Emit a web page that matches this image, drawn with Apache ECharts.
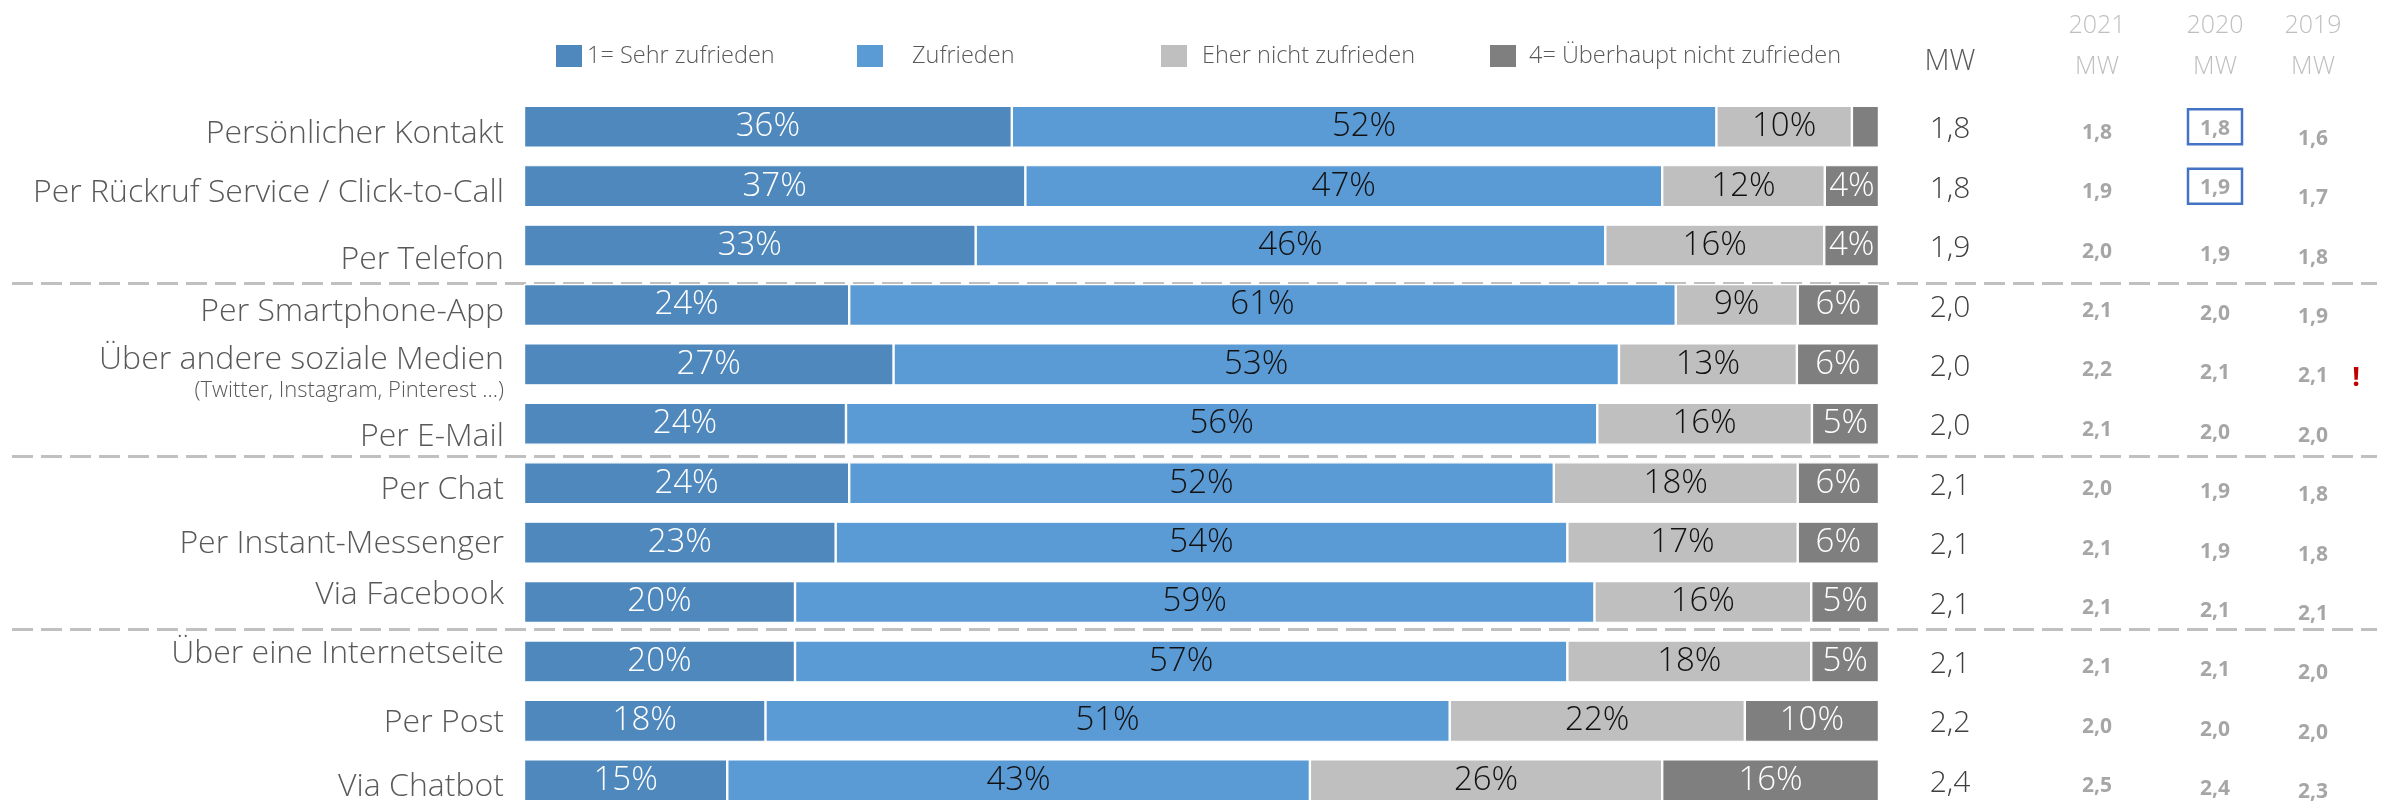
<!DOCTYPE html>
<html lang="de">
<head>
<meta charset="UTF-8">
<title>Zufriedenheit nach Kontaktkanal</title>
<script src="https://cdn.jsdelivr.net/npm/echarts@6/dist/echarts.min.js"></script>
<style>
    html, body { margin: 0; padding: 0; background: #fff; }
    #chart { width: 2389px; height: 803px; }
</style>
</head>
<body>
<div id="chart"></div>
<script>
    // Kanäle von oben nach unten
    const channels = [
        'Persönlicher Kontakt', 'Per Rückruf Service / Click-to-Call', 'Per Telefon',
        'Per Smartphone-App', 'Über andere soziale Medien', 'Per E-Mail',
        'Per Chat', 'Per Instant-Messenger', 'Via Facebook',
        'Über eine Internetseite', 'Per Post', 'Via Chatbot'
    ];
    const channelNotes = ['', '', '', '', '(Twitter, Instagram, Pinterest …)', '', '', '', '', '', '', ''];
    const groupStarts = [3, 6, 9];   // gestrichelte Trenner vor diesen Zeilen

    const seriesNames = ['1= Sehr zufrieden', 'Zufrieden', 'Eher nicht zufrieden', '4= Überhaupt nicht zufrieden'];
    const sehrZufrieden = [36, 37, 33, 24, 27, 24, 24, 23, 20, 20, 18, 15];
    const zufrieden     = [52, 47, 46, 61, 53, 56, 52, 54, 59, 57, 51, 43];
    const eherNicht     = [10, 12, 16, 9, 13, 16, 18, 17, 16, 18, 22, 26];
    const garNicht      = [2, 4, 4, 6, 6, 5, 6, 6, 5, 5, 10, 16];

    // Mittelwerte
    const mw     = [1.8, 1.8, 1.9, 2.0, 2.0, 2.0, 2.1, 2.1, 2.1, 2.1, 2.2, 2.4];
    const mw2021 = [1.8, 1.9, 2.0, 2.1, 2.2, 2.1, 2.0, 2.1, 2.1, 2.1, 2.0, 2.5];
    const mw2020 = [1.8, 1.9, 1.9, 2.0, 2.1, 2.0, 1.9, 1.9, 2.1, 2.1, 2.0, 2.4];
    const mw2019 = [1.6, 1.7, 1.8, 1.9, 2.1, 2.0, 1.8, 1.8, 2.1, 2.0, 2.0, 2.3];
    const years = ['2021', '2020', '2019'];
    const boxed2020 = [0, 1];
    const alertRows = [4];

    const FONT = '"Open Sans", sans-serif';
    const colors = ['#4F88BC', '#5B9BD5', '#BFBFBF', '#7F7F7F'];
    const labelColors = ['#ffffff', '#111111', '#111111', '#ffffff'];
    const raw = [sehrZufrieden, zufrieden, eherNicht, garNicht];
    const rowSum = channels.map((_, i) => raw.reduce((s, arr) => s + arr[i], 0));
    const fmt = v => v.toFixed(1).replace('.', ',');

    const GRID_LEFT = 524, GRID_WIDTH = 1355, GRID_TOP = 97, GRID_HEIGHT = 713;
    const RIGHT_EDGE = GRID_LEFT + GRID_WIDTH;

    // vertikaler Versatz der Beschriftungen (px nach unten)
    const catShift = [7, 7, 14, 7, 0, 13, 7, 1, -7, -8, 2, 7];
    const pad = s => s >= 0 ? [2 * s, 0, 0, 0] : [0, 0, -2 * s, 0];

    const catRich = {
        main: { fontSize: 32, fontFamily: FONT, fontWeight: 300, color: '#595959', padding: [17, 0, 0, 0] },
        sub: { fontSize: 22, fontFamily: FONT, fontWeight: 300, color: '#595959', padding: [4, 0, 0, 0] }
    };
    catShift.forEach((s, i) => {
        catRich['r' + i] = { fontSize: 32, fontFamily: FONT, fontWeight: 300, color: '#595959', padding: pad(s) };
    });

    function columnAxis(centerX, formatter, rich) {
        return {
            gridIndex: 0, type: 'category', inverse: true, data: channels,
            position: 'right', offset: centerX - RIGHT_EDGE,
            axisLine: { show: false }, axisTick: { show: false }, splitLine: { show: false },
            axisLabel: { interval: 0, margin: 0, align: 'center', formatter: formatter, rich: rich }
        };
    }
    const histStyle = s => ({ fontSize: 21, fontFamily: FONT, fontWeight: 'bold', color: '#A6A6A6', padding: pad(s) });

    const legendLeft = [556, 857, 1161, 1490];
    const legendTextGap = [0, 24, 10, 8];
    const yearX = [2097, 2215, 2313];

    const chart = echarts.init(document.getElementById('chart'));
    chart.setOption({
        animation: false,
        legend: seriesNames.map((n, k) => ({
            data: [n], left: legendLeft[k], top: 44, padding: 0, icon: 'rect',
            itemWidth: 26, itemHeight: 22, selectedMode: false,
            itemStyle: { borderWidth: 0 },
            textStyle: { color: '#595959', fontSize: 23.5, fontFamily: FONT, fontWeight: 300, padding: [0, 0, 0, legendTextGap[k]] }
        })),
        grid: [
            { left: GRID_LEFT, top: GRID_TOP, width: GRID_WIDTH, height: GRID_HEIGHT, outerBoundsMode: 'none' },
            // Hilfsraster nur für die gestrichelten Trenner
            { left: 12, top: 110, width: 2365, height: 692, outerBoundsMode: 'none' }
        ],
        xAxis: [
            { gridIndex: 0, type: 'value', min: 0, max: 100, show: false },
            { gridIndex: 1, type: 'value', min: 0, max: 1, show: false }
        ],
        yAxis: [
            {
                gridIndex: 0, type: 'category', inverse: true, data: channels,
                axisLine: { show: false }, axisTick: { show: false },
                axisLabel: {
                    interval: 0, margin: 20, align: 'right',
                    formatter: (v, i) => channelNotes[i]
                        ? '{main|' + v + '}\n{sub|' + channelNotes[i] + '}'
                        : '{r' + i + '|' + v + '}',
                    rich: catRich
                }
            },
            columnAxis(1950, (v, i) => '{m|' + fmt(mw[i]) + '}',
                { m: { fontSize: 30, fontFamily: FONT, fontWeight: 300, color: '#404040', padding: pad(3) } }),
            columnAxis(yearX[0], (v, i) => '{h|' + fmt(mw2021[i]) + '}', { h: histStyle(6) }),
            columnAxis(yearX[1], (v, i) => boxed2020.includes(i) ? '{b|' + fmt(mw2020[i]) + '}' : '{h|' + fmt(mw2020[i]) + '}', {
                h: histStyle(9),
                b: { fontSize: 21, fontFamily: FONT, fontWeight: 'bold', color: '#A6A6A6',
                     padding: [9, 12, 5, 12], borderColor: '#4472C4', borderWidth: 2.5 }
            }),
            columnAxis(yearX[2], (v, i) => '{h|' + fmt(mw2019[i]) + '}', { h: histStyle(12) }),
            columnAxis(2356, (v, i) => alertRows.includes(i) ? '{a|!}' : '',
                { a: { fontSize: 27, fontFamily: FONT, fontWeight: 'bold', color: '#C00000', padding: pad(14) } }),
            {
                gridIndex: 1, type: 'category', inverse: true, data: channels,
                axisLine: { show: false }, axisTick: { show: false }, axisLabel: { show: false },
                splitLine: {
                    show: true, showMaxLine: false,
                    interval: i => groupStarts.includes(i),
                    lineStyle: { color: '#C0C0C0', width: 3, type: [21, 8] }
                }
            }
        ],
        graphic: [
            { type: 'text', x: 1950, y: 62, style: { text: 'MW', fontSize: 29, fontFamily: FONT, fontWeight: 300, fill: '#595959', align: 'center', verticalAlign: 'middle' } }
        ].concat(years.map((y, k) => ({
            type: 'text', x: yearX[k], y: 26,
            style: { text: y, fontSize: 25, fontFamily: FONT, fontWeight: 300, fill: '#BFBFBF', align: 'center', verticalAlign: 'middle' }
        }))).concat(years.map((y, k) => ({
            type: 'text', x: yearX[k], y: 67,
            style: { text: 'MW', fontSize: 25, fontFamily: FONT, fontWeight: 300, fill: '#BFBFBF', align: 'center', verticalAlign: 'middle' }
        }))),
        series: raw.map((vals, k) => ({
            name: seriesNames[k], type: 'bar', stack: 'total',
            xAxisIndex: 0, yAxisIndex: 0, barWidth: 42,
            data: vals.map((v, i) => v / rowSum[i] * 100),
            itemStyle: { color: colors[k], borderColor: '#fff', borderWidth: 1.2 },
            label: {
                show: true, position: 'inside', color: labelColors[k],
                fontSize: 33, fontFamily: FONT, fontWeight: 300,
                formatter: p => vals[p.dataIndex] >= 3 ? vals[p.dataIndex] + '%' : ''
            },
            emphasis: { disabled: true }
        }))
    });
</script>
</body>
</html>
